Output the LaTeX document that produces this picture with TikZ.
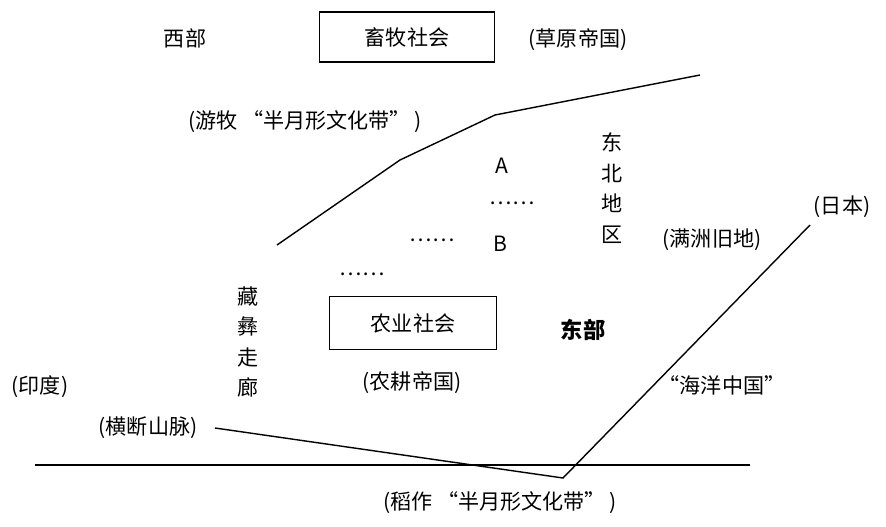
\documentclass[tikz,border=0pt]{standalone}
\usepackage{fontspec}
\newfontfamily\cjk{Noto Sans CJK SC}
\begin{document}
\begin{tikzpicture}[x=0.03cm,y=-0.03cm,
  lbl/.style={font=\cjk\fontsize{18}{20}\selectfont,inner sep=1pt},
  boxn/.style={lbl,draw,line width=1.5pt,minimum width=175*0.03cm,minimum height=50*0.03cm},
  vert/.style={lbl,align=center,font=\cjk\fontsize{18}{26}\selectfont},
  ln/.style={line width=1.2pt}]
\useasboundingbox (0,0) rectangle (886,527);
\node[lbl] (west) at (185,38) {西部};
\node[boxn] (herd) at (407,37) {畜牧社会};
\node[lbl] (steppe) at (578,40) {(草原帝国)};
\node[lbl] (nomad) at (305,122) {(游牧\ “半月形文化带”\,)};
\coordinate (n1) at (277,245); \coordinate (n2) at (400,160);
\coordinate (n3) at (495,115); \coordinate (n4) at (700,75);
\draw[ln] (n1) -- (n2) -- (n3) -- (n4);
\node[lbl] (A) at (502,166) {A};
\node[lbl] (d1) at (512,203) {……};
\node[lbl] (B) at (500,244) {B};
\node[lbl] (d2) at (432,240) {……};
\node[lbl] (d3) at (362,274) {……};
\node[vert] (ne) at (612,188) {东\\北\\地\\区};
\node[lbl] (manchu) at (712,240) {(满洲旧地)};
\node[lbl] (japan) at (842,207) {(日本)};
\node[vert] (zang) at (248,342) {藏\\彝\\走\\廊};
\node[boxn,minimum width=167*0.03cm,minimum height=53*0.03cm] (agri) at (413,323) {农业社会};
\node[lbl,font=\cjk\bfseries\fontsize{19}{20}\selectfont] (east) at (583,330) {东部};
\node[lbl] (india) at (40,387) {(印度)};
\node[lbl] (farm) at (412,383) {(农耕帝国)};
\node[lbl] (ocean) at (722,385) {“海洋中国”};
\node[lbl] (hengd) at (148,428) {(横断山脉)};
\node[lbl] (rice) at (500,503) {(稻作\ “半月形文化带”\,)};
\coordinate (h1) at (35,465); \coordinate (h2) at (750,465);
\draw[ln] (h1) -- (h2);
\coordinate (hs) at (215,428);
\coordinate (j) at (563,478); \coordinate (jp) at (810,225);
\draw[ln] (hs) -- (j) -- (jp);
\end{tikzpicture}
\end{document}
